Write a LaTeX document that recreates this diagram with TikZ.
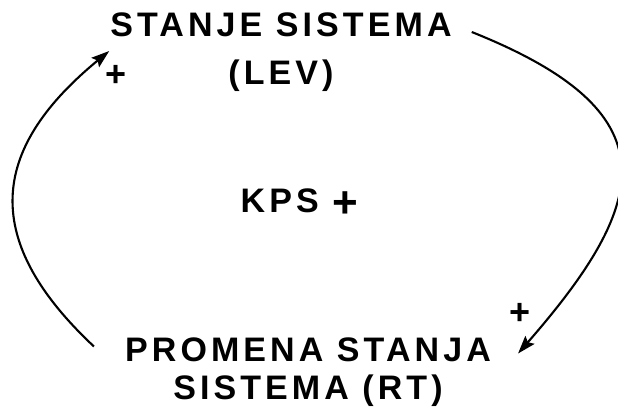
\documentclass[tikz,border=0pt]{standalone}
\usepackage{fontspec}
\setmainfont{Liberation Sans}
\newfontfamily\labelfont{Liberation Sans Bold}[LetterSpace=12]
\newfontfamily\signfont{Liberation Sans Bold}
\usetikzlibrary{arrows.meta}
\begin{document}
\begin{tikzpicture}[x=1bp,y=-1bp,
  label text/.style={font=\fontsize{34bp}{38bp}\labelfont,
    inner sep=0pt, align=center},
  sign/.style={font=\fontsize{36bp}{36bp}\signfont, inner sep=0pt},
  link/.style={line width=2.1bp,
    -{Stealth[length=18bp,width=12bp,inset=3bp]}}]
\useasboundingbox (0,0) rectangle (618,408);

% variables of the loop
\node[label text, anchor=north] (lev) at (281,13)
  {STANJE SISTEMA\\[10bp](LEV)};
\node[label text, anchor=north] (rt) at (308,337.5)
  {PROMENA STANJA\\SISTEMA (RT)};
\node[label text, anchor=base west] (kps) at (240.5,212.5)
  {KPS \raisebox{-5bp}{\fontsize{44bp}{44bp}\signfont+}};

% link polarities
\node[sign] (p1) at (116.5,76) {+};
\node[sign] (p2) at (520,313.5) {+};

% causal links
\coordinate (levout) at ([shift={(20,19)}]lev.north east);
\coordinate (rtin) at ([shift={(27,16)}]rt.north east);
\coordinate (rtout) at ([shift={(-31,9)}]rt.north west);
\coordinate (levin) at ([shift={(-1,38)}]lev.north west);
\draw[link] (levout) .. controls (672,112) and (652,200) .. (rtin);
\draw[link] (rtout) .. controls (-25,235) and (-5,145) .. (levin);
\end{tikzpicture}
\end{document}
